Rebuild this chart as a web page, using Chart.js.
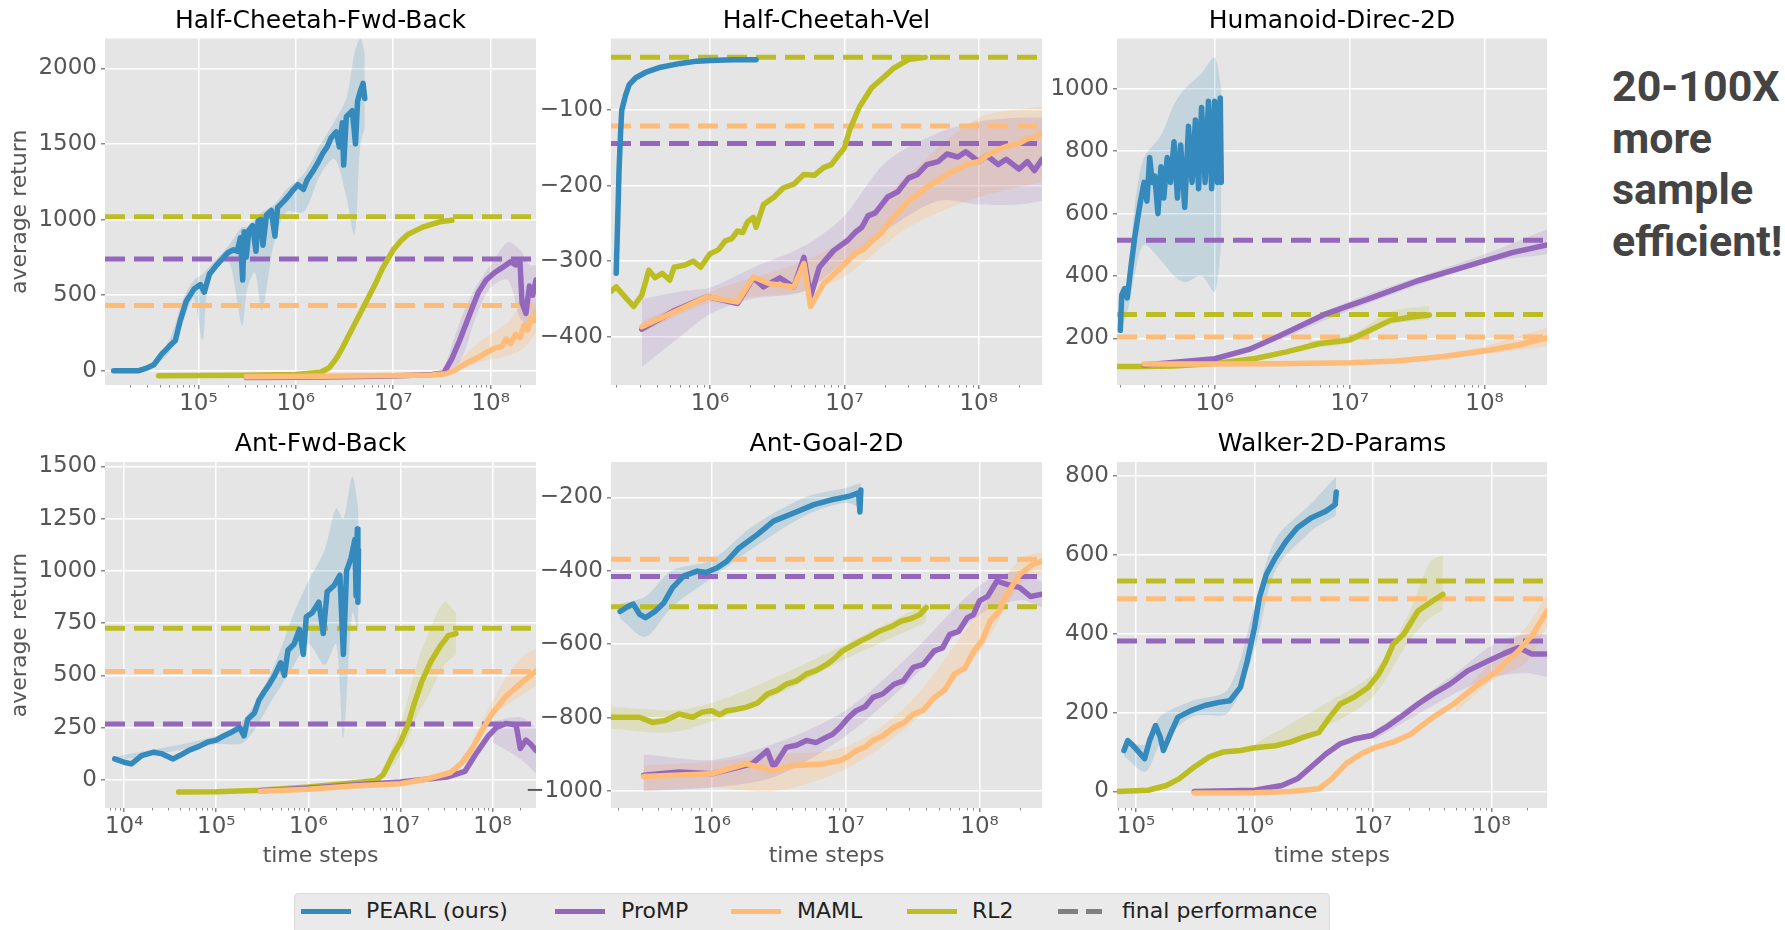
<!DOCTYPE html>
<html>
<head>
<meta charset="utf-8">
<script src="https://cdn.jsdelivr.net/npm/chart.js@4.4.1/dist/chart.umd.min.js"></script>
<style>
  body { margin: 0; background: #fff; width: 1785px; height: 930px; overflow: hidden; position: relative; font-family: 'DejaVu Sans'; }
  canvas { position: absolute; }
  #claim { position: absolute; left: 1612px; top: 61px; font-family: Roboto; font-weight: 700; font-size: 43px; line-height: 51.5px; color: #444; white-space: nowrap; }
  #legend { position: absolute; left: 294px; top: 893px; width: 1036px; height: 45px; background: #eaeaea; border: 1px solid #dadada; border-radius: 4px; box-sizing: border-box; }
  #legend .h { position: absolute; top: 15px; height: 5px; }
  #legend .t { position: absolute; top: 4px; font-size: 22px; line-height: 26px; color: #222; white-space: nowrap; }
</style>
</head>
<body>
<canvas id="c0" width="550" height="425" style="left:0px;top:0px"></canvas>
<canvas id="c1" width="535" height="425" style="left:520px;top:0px"></canvas>
<canvas id="c2" width="515" height="425" style="left:1045px;top:0px"></canvas>
<canvas id="c3" width="550" height="455" style="left:0px;top:425px"></canvas>
<canvas id="c4" width="535" height="455" style="left:520px;top:425px"></canvas>
<canvas id="c5" width="515" height="455" style="left:1045px;top:425px"></canvas>

<div id="claim">20-100X<br>more<br>sample<br>efficient!</div>

<div id="legend">
  <div class="h" style="left:6px;width:50px;background:#348abd"></div><div class="t" style="left:71px">PEARL (ours)</div>
  <div class="h" style="left:260px;width:50px;background:#9467bd"></div><div class="t" style="left:326px">ProMP</div>
  <div class="h" style="left:436px;width:50px;background:#ffbb78"></div><div class="t" style="left:502px">MAML</div>
  <div class="h" style="left:612px;width:50px;background:#bcbd22"></div><div class="t" style="left:677px">RL2</div>
  <div class="h" style="left:763px;width:20px;background:#808080"></div><div class="h" style="left:791px;width:16px;background:#808080"></div><div class="t" style="left:827px">final performance</div>
</div>

<script>
// tick labels for the log time axis
var xTickValues = [1e4, 1e5, 1e6, 1e7, 1e8];
var xTickLabels = ['10\u2074', '10\u2075', '10\u2076', '10\u2077', '10\u2078'];

// ---- Half-Cheetah-Fwd-Back ----
var hcfbXRange = [1.1e4, 2.92e8];
var hcfbYRange = [-94, 2197];
var hcfbYTicks = [0, 500, 1000, 1500, 2000];
var hcfbPearl = [[1.35e4,0],[1.8e4,0],[2.4e4,0],[3.0e4,20],[3.5e4,40],[4.2e4,110],[5.0e4,160],[5.8e4,200],[6.5e4,330],[7.5e4,460],[9.0e4,540],[1.05e5,570],[1.15e5,520],[1.3e5,640],[1.5e5,690],[1.7e5,730],[2.0e5,780],[2.3e5,800],[2.5e5,790],[2.7e5,880],[2.85e5,600],[2.95e5,920],[3.1e5,750],[3.3e5,930],[3.6e5,960],[3.9e5,790],[4.1e5,990],[4.4e5,1000],[4.6e5,830],[5.0e5,1030],[5.6e5,1060],[6.1e5,890],[6.5e5,1080],[7.5e5,1120],[8.5e5,1160],[9.5e5,1200],[1.05e6,1230],[1.2e6,1200],[1.3e6,1260],[1.5e6,1320],[1.7e6,1380],[1.9e6,1440],[2.1e6,1480],[2.3e6,1540],[2.6e6,1580],[2.8e6,1480],[3.0e6,1640],[3.1e6,1360],[3.3e6,1680],[3.8e6,1720],[4.1e6,1500],[4.3e6,1780],[4.6e6,1850],[4.9e6,1900],[5.1e6,1800]];
var hcfbPromp = [[3.1e5,-45],[1e6,-42],[3e6,-40],[1e7,-35],[2.5e7,-25],[3.3e7,-15],[4e7,80],[4.8e7,200],[5.5e7,300],[6.5e7,420],[7.5e7,520],[9e7,600],[1.1e8,650],[1.3e8,680],[1.6e8,720],[1.8e8,700],[2e8,720],[2.1e8,450],[2.3e8,380],[2.5e8,560],[2.7e8,500],[2.92e8,600]];
var hcfbMaml = [[3.1e5,-40],[1e6,-38],[3e6,-35],[1e7,-32],[2.5e7,-28],[3.5e7,-20],[4.2e7,0],[5e7,30],[6e7,60],[7.5e7,90],[9e7,120],[1.1e8,150],[1.3e8,160],[1.45e8,210],[1.6e8,180],[1.8e8,240],[2e8,220],[2.2e8,300],[2.4e8,270],[2.6e8,350],[2.8e8,330],[2.92e8,390]];
var hcfbRl2 = [[3.9e4,-33],[1e5,-32],[3e5,-30],[1e6,-25],[1.8e6,-10],[2.2e6,20],[2.6e6,80],[3.0e6,150],[3.6e6,250],[4.5e6,370],[5.5e6,480],[6.5e6,570],[7.8e6,680],[1e7,800],[1.2e7,860],[1.4e7,900],[2e7,950],[3e7,985],[4e7,995]];
var hcfbFinal = [739, 432, 1018]; // ProMP, MAML, RL2
// spread bands: [x, low, high]
var hcfbPearlBand = [[1.35e4,-10,10],[3e4,10,35],[5e4,120,200],[7e4,330,480],[9e4,480,600],[1.1e5,200,640],[1.3e5,600,690],[2e5,740,820],[2.8e5,300,950],[3.2e5,550,950],[3.8e5,650,1000],[4.5e5,400,1050],[6e5,850,1100],[8e5,1050,1200],[1.2e6,1050,1300],[1.8e6,1300,1500],[2.5e6,1400,1650],[3.3e6,1150,1800],[4e6,900,2100],[4.6e6,1500,2200],[5.1e6,1600,2100]];
var hcfbPrompBand = [[3.3e7,-30,0],[5e7,80,350],[7e7,350,550],[1e8,550,700],[1.5e8,600,850],[2e8,350,800],[2.5e8,300,700],[2.92e8,400,700]];
var hcfbMamlBand = [[4e7,-20,20],[8e7,60,200],[1.5e8,100,320],[2.2e8,150,450],[2.92e8,250,450]];

// ---- Half-Cheetah-Vel ----
var hcvXRange = [1.83e5, 2.96e8];
var hcvYRange = [-464, -5];
var hcvYTicks = [-400, -300, -200, -100];
var hcvPearl = [[2.0e5,-316],[2.05e5,-250],[2.1e5,-180],[2.15e5,-135],[2.2e5,-100],[2.35e5,-80],[2.5e5,-66],[2.8e5,-57],[3.3e5,-50],[4.3e5,-43],[6e5,-38],[8e5,-35],[1e6,-34],[1.5e6,-33],[2.2e6,-33]];
var hcvPromp = [[3.1e5,-390],[5.5e5,-365],[9.5e5,-347],[1.6e6,-356],[2.1e6,-322],[2.5e6,-334],[3.3e6,-322],[4.2e6,-334],[5e6,-295],[5.6e6,-347],[6.5e6,-308],[8.3e6,-286],[1.05e7,-273],[1.2e7,-262],[1.35e7,-255],[1.5e7,-240],[1.7e7,-236],[2.1e7,-215],[2.5e7,-208],[3e7,-190],[3.5e7,-185],[4.1e7,-172],[5e7,-168],[5.8e7,-158],[7e7,-162],[8e7,-155],[1e8,-168],[1.15e8,-160],[1.4e8,-172],[1.6e8,-165],[2e8,-178],[2.3e8,-168],[2.6e8,-180],[2.96e8,-165]];
var hcvMaml = [[3.1e5,-387],[9.5e5,-347],[1.6e6,-354],[2.1e6,-321],[2.8e6,-330],[4.2e6,-334],[5e6,-303],[5.6e6,-360],[7e6,-330],[9e6,-312],[1.2e7,-290],[1.4e7,-284],[1.6e7,-273],[1.9e7,-262],[2.1e7,-251],[2.5e7,-236],[3e7,-220],[3.5e7,-212],[4.1e7,-202],[5e7,-193],[5.8e7,-185],[7e7,-178],[8e7,-172],[1e8,-168],[1.15e8,-160],[1.4e8,-152],[1.6e8,-148],[2e8,-144],[2.3e8,-138],[2.6e8,-136],[2.96e8,-130]];
var hcvRl2 = [[1.83e5,-340],[2e5,-334],[2.4e5,-350],[2.7e5,-360],[3.1e5,-345],[3.5e5,-312],[3.9e5,-322],[4.4e5,-316],[5e5,-325],[5.4e5,-308],[6.5e5,-305],[7.5e5,-300],[8.5e5,-308],[1e6,-290],[1.15e6,-285],[1.3e6,-273],[1.45e6,-270],[1.6e6,-260],[1.75e6,-262],[1.9e6,-248],[2.1e6,-242],[2.2e6,-255],[2.5e6,-225],[3e6,-215],[3.5e6,-203],[4.2e6,-198],[5e6,-185],[6e6,-186],[7e6,-176],[8e6,-172],[9e6,-160],[1e7,-150],[1.1e7,-125],[1.3e7,-95],[1.6e7,-70],[2e7,-55],[2.3e7,-45],[3e7,-33],[4e7,-30]];
var hcvFinal = [-144, -121, -30];
var hcvPrompBand = [[3.1e5,-440,-350],[6e5,-400,-340],[1e6,-370,-335],[2e6,-350,-310],[5e6,-340,-280],[1e7,-300,-240],[2e7,-260,-170],[5e7,-220,-130],[1e8,-225,-115],[2e8,-225,-110],[2.96e8,-220,-110]];
var hcvMamlBand = [[3.1e5,-395,-380],[1e6,-355,-340],[5e6,-340,-300],[1e7,-320,-270],[3e7,-255,-185],[1e8,-215,-110],[2.96e8,-195,-95]];

// ---- Humanoid-Direc-2D ----
var humXRange = [1.89e5, 2.9e8];
var humYRange = [51, 1161];
var humYTicks = [200, 400, 600, 800, 1000];
var humPearl = [[2e5,226],[2.05e5,340],[2.15e5,360],[2.25e5,330],[2.4e5,430],[2.55e5,520],[2.7e5,590],[2.85e5,650],[3.0e5,700],[3.15e5,640],[3.3e5,780],[3.45e5,700],[3.6e5,720],[3.8e5,600],[4.0e5,750],[4.2e5,650],[4.45e5,780],[4.7e5,700],[5e5,830],[5.3e5,650],[5.6e5,820],[6e5,620],[6.4e5,880],[6.8e5,700],[7.2e5,900],[7.6e5,680],[8e5,940],[8.5e5,700],[9e5,960],[9.5e5,680],[1.0e6,960],[1.05e6,700],[1.1e6,970],[1.12e6,700]];
var humPromp = [[3e5,115],[1e6,135],[1.8e6,165],[2.9e6,205],[6.5e6,277],[1.45e7,330],[3.2e7,385],[7.2e7,430],[1.6e8,475],[2.9e8,500]];
var humMaml = [[3e5,118],[1e6,118],[3e6,119],[1e7,122],[2.2e7,128],[5e7,142],[1.1e8,163],[1.8e8,180],[2.9e8,202]];
var humRl2 = [[1.89e5,110],[3e5,110],[5e5,112],[1e6,120],[2e6,136],[3.4e6,157],[6e6,184],[1e7,195],[1.5e7,232],[2e7,258],[2.8e7,268],[3.9e7,275]];
var humFinal = [515, 205, 277];
var humPearlBand = [[2e5,220,260],[2.3e5,300,420],[2.6e5,420,650],[3e5,500,780],[4e5,450,850],[5e5,400,950],[6e5,380,1000],[8e5,400,1050],[1e6,350,1100],[1.12e6,500,1000]];
var humPrompBand = [[3e6,195,215],[1e7,290,320],[1e8,440,470],[2.9e8,470,550]];
var humMamlBand = [[5e7,135,150],[1e8,150,175],[2.9e8,175,235]];
var humRl2Band = [[5e6,170,190],[1e7,185,210],[2e7,245,285],[3.9e7,260,305]];

// ---- Ant-Fwd-Back ----
var afbXRange = [6.2e3, 2.96e8];
var afbYRange = [-135, 1521];
var afbYTicks = [0, 250, 500, 750, 1000, 1250, 1500];
var afbPearl = [[7.9e3,100],[1e4,84],[1.2e4,76],[1.55e4,116],[2.1e4,132],[2.6e4,124],[3.4e4,100],[4e4,116],[5e4,140],[6.5e4,160],[8e4,180],[1e5,190],[1.2e5,210],[1.5e5,230],[1.8e5,250],[2e5,210],[2.2e5,290],[2.6e5,320],[2.9e5,380],[3.3e5,420],[3.8e5,460],[4.3e5,500],[5e5,560],[5.5e5,500],[6e5,620],[7e5,650],[8e5,720],[8.8e5,600],[9.5e5,780],[1.1e6,800],[1.3e6,850],[1.45e6,700],[1.6e6,900],[1.9e6,930],[2.2e6,980],[2.4e6,600],[2.6e6,1000],[2.9e6,1060],[3.2e6,1150],[3.3e6,880],[3.4e6,1200],[3.45e6,850],[3.5e6,1100]];
var afbPromp = [[3e5,-52],[1e6,-40],[3e6,-25],[1e7,-11],[3.2e7,13],[5e7,40],[6.5e7,120],[9e7,210],[1.1e8,250],[1.4e8,270],[1.8e8,262],[2e8,150],[2.3e8,190],[2.6e8,170],[2.96e8,140]];
var afbMaml = [[3e5,-55],[1e6,-45],[3e6,-30],[1e7,-19],[2e7,5],[3.5e7,35],[4.6e7,80],[6e7,150],[8e7,250],[1e8,320],[1.4e8,400],[2e8,460],[2.96e8,520]];
var afbRl2 = [[3.9e4,-59],[1e5,-57],[3e5,-50],[1e6,-35],[3e6,-15],[5.4e6,-3],[6.5e6,25],[7.3e6,70],[8.3e6,120],[1e7,180],[1.2e7,260],[1.4e7,360],[1.7e7,470],[2.1e7,560],[2.7e7,640],[3.3e7,690],[4e7,700]];
var afbFinal = [267, 518, 725];
var afbPearlBand = [[7.9e3,90,110],[1e5,170,210],[2e5,180,290],[4e5,380,520],[7e5,550,800],[1e6,650,950],[1.5e6,550,1100],[2e6,650,1300],[2.4e6,200,1250],[3e6,800,1450],[3.5e6,700,1300]];
var afbPrompBand = [[1e8,180,280],[2e8,100,300],[2.96e8,30,250]];
var afbMamlBand = [[5e7,50,100],[1e8,300,380],[2e8,400,580],[2.96e8,450,630]];
var afbRl2Band = [[6e6,-10,10],[1e7,120,260],[1.5e7,300,550],[2e7,400,700],[3e7,550,850],[4e7,600,800]];

// ---- Ant-Goal-2D ----
var agXRange = [1.77e5, 2.93e8];
var agYRange = [-1046, -104];
var agYTicks = [-1000, -800, -600, -400, -200];
var agPearl = [[2.07e5,-511],[2.4e5,-496],[2.6e5,-491],[2.9e5,-519],[3.2e5,-528],[3.8e5,-510],[4.4e5,-487],[5.1e5,-446],[6.2e5,-414],[7.8e5,-401],[9.1e5,-405],[1.1e6,-392],[1.3e6,-374],[1.6e6,-338],[2.2e6,-301],[2.9e6,-265],[4.1e6,-243],[5.8e6,-220],[8.1e6,-206],[1.07e7,-197],[1.25e7,-188],[1.28e7,-240],[1.3e7,-180]];
var agPromp = [[3.1e5,-957],[5.7e5,-948],[1e6,-953],[1.45e6,-939],[2e6,-926],[2.6e6,-890],[2.9e6,-935],[3.6e6,-881],[4.3e6,-875],[5.1e6,-862],[6e6,-868],[7.2e6,-853],[8e6,-845],[9.1e6,-826],[1.05e7,-800],[1.2e7,-781],[1.4e7,-770],[1.6e7,-745],[1.9e7,-735],[2.3e7,-709],[2.7e7,-700],[3.2e7,-663],[3.8e7,-655],[4.6e7,-618],[5.3e7,-610],[6e7,-573],[7e7,-565],[8.1e7,-528],[9e7,-520],[1e8,-482],[1.15e8,-470],[1.35e8,-428],[1.6e8,-437],[2e8,-446],[2.4e8,-470],[2.93e8,-464]];
var agMaml = [[3.1e5,-960],[1e6,-953],[1.8e6,-926],[2.9e6,-944],[4.1e6,-930],[6.8e6,-926],[9.1e6,-917],[1.05e7,-905],[1.2e7,-890],[1.4e7,-880],[1.6e7,-862],[1.9e7,-850],[2.3e7,-826],[2.7e7,-815],[3.2e7,-790],[3.8e7,-780],[4.6e7,-745],[5.5e7,-725],[6.5e7,-681],[7.8e7,-665],[9.1e7,-618],[1.05e8,-590],[1.2e8,-537],[1.4e8,-510],[1.6e8,-464],[2e8,-410],[2.5e8,-383],[2.93e8,-374]];
var agRl2 = [[1.77e5,-799],[2.9e5,-799],[3.6e5,-813],[4.5e5,-808],[5.7e5,-790],[7.2e5,-799],[8.5e5,-785],[1e6,-781],[1.15e6,-792],[1.3e6,-781],[1.5e6,-778],[1.8e6,-772],[2.2e6,-760],[2.6e6,-736],[3.1e6,-725],[3.6e6,-709],[4.3e6,-700],[5.1e6,-681],[6e6,-672],[7.3e6,-654],[8.2e6,-640],[9.5e6,-618],[1.1e7,-605],[1.3e7,-591],[1.5e7,-580],[1.8e7,-564],[2.2e7,-552],[2.6e7,-537],[3.1e7,-530],[3.6e7,-519],[4e7,-500]];
var agFinal = [-416, -369, -498];
var agPearlBand = [[2.07e5,-530,-490],[3.2e5,-580,-470],[5e5,-500,-400],[1e6,-420,-370],[2e6,-340,-280],[5e6,-250,-200],[1e7,-215,-175],[1.3e7,-230,-160]];
var agPrompBand = [[3.1e5,-1000,-900],[1e6,-990,-915],[3e6,-960,-870],[1e7,-850,-780],[3e7,-700,-630],[1e8,-520,-440],[2e8,-480,-400],[2.93e8,-500,-430]];
var agMamlBand = [[3.1e5,-1000,-930],[1e6,-990,-920],[3e6,-1000,-900],[1e7,-940,-880],[3e7,-820,-760],[1e8,-620,-510],[2e8,-440,-370],[2.93e8,-410,-350]];
var agRl2Band = [[1.77e5,-830,-770],[5e5,-840,-780],[1e6,-810,-760],[3e6,-740,-690],[1e7,-640,-600],[4e7,-540,-490]];

// ---- Walker-2D-Params ----
var wkXRange = [6.9e4, 2.95e8];
var wkYRange = [-42, 836];
var wkYTicks = [0, 200, 400, 600, 800];
var wkPearl = [[7.9e4,104],[8.5e4,129],[9.1e4,121],[1e5,108],[1.18e5,83],[1.3e5,129],[1.46e5,167],[1.6e5,138],[1.7e5,104],[1.95e5,146],[2.25e5,188],[2.9e5,205],[3.8e5,218],[5e5,226],[6.2e5,230],[7.6e5,264],[8.7e5,332],[1e6,416],[1.1e6,492],[1.26e6,551],[1.5e6,593],[1.85e6,635],[2.3e6,669],[3e6,694],[4e6,711],[4.8e6,728],[4.9e6,760]];
var wkPromp = [[3.1e5,0],[1e6,3],[1.7e6,15],[2.3e6,32],[3e6,62],[4e6,95],[5.3e6,121],[6.9e6,133],[9.8e6,142],[1.29e7,163],[1.7e7,188],[2.4e7,222],[3.2e7,247],[4.5e7,273],[6.3e7,306],[9.5e7,332],[1.26e8,349],[1.7e8,365],[2.2e8,349],[2.95e8,349]];
var wkMaml = [[3.1e5,-4],[1e6,-3],[2e6,0],[3.5e6,7],[4.5e6,32],[5.9e6,70],[7.9e6,95],[1.05e7,112],[1.48e7,125],[2.1e7,146],[3.2e7,188],[4.8e7,222],[7.2e7,264],[1.12e8,306],[1.7e8,357],[2.25e8,399],[2.95e8,458]];
var wkRl2 = [[6.9e4,0],[1.26e5,3],[1.8e5,15],[2.3e5,32],[3.1e5,62],[4.1e5,87],[5.4e5,100],[7.6e5,104],[1e6,111],[1.5e6,116],[2e6,125],[2.6e6,138],[3.5e6,150],[4.3e6,188],[5.3e6,222],[6.9e6,239],[9.1e6,264],[1.12e7,298],[1.29e7,332],[1.48e7,374],[1.82e7,399],[2.4e7,458],[3.2e7,484],[3.9e7,500]];
var wkFinal = [382, 489, 534];
var wkPearlBand = [[7.9e4,90,130],[1.2e5,50,120],[1.6e5,120,190],[3e5,190,230],[6e5,200,260],[1e6,360,470],[1.5e6,560,640],[3e6,660,730],[4.9e6,700,800]];
var wkPrompBand = [[1e7,130,150],[5e7,250,300],[1e8,290,370],[2e8,300,400],[2.95e8,290,400]];
var wkMamlBand = [[5e7,200,230],[1e8,280,330],[2e8,330,420],[2.95e8,420,500]];
var wkRl2Band = [[1e6,100,120],[5e6,180,240],[1e7,240,300],[2e7,380,450],[3e7,440,580],[3.9e7,460,600]];

var colors = { pearl: '#348abd', promp: '#9467bd', maml: '#ffbb78', rl2: '#bcbd22' };
var bandColors = { pearl: 'rgba(52,138,189,0.18)', promp: 'rgba(148,103,189,0.17)', maml: 'rgba(255,187,120,0.28)', rl2: 'rgba(188,189,34,0.18)' };

// column / row geometry
var cols = [{ yw: 105, pr: 14 }, { yw: 91, pr: 13 }, { yw: 72, pr: 13 }];
var rows = [{ xh: 40, tt: 6, tb: 2.5 }, { xh: 72, tt: 4, tb: 3 }];

Chart.defaults.font.family = "'DejaVu Sans'";

var plotBg = {
  id: 'plotBg',
  beforeDraw: function(chart) {
    var a = chart.chartArea, ctx = chart.ctx;
    ctx.save();
    ctx.fillStyle = '#e5e5e5';
    ctx.fillRect(a.left, a.top, a.right - a.left, a.bottom - a.top);
    ctx.restore();
  }
};

// small minor ticks under the log axis
var minorTicks = {
  id: 'minorTicks',
  afterDraw: function(chart) {
    var s = chart.scales.x, a = chart.chartArea, ctx = chart.ctx;
    ctx.save();
    ctx.strokeStyle = '#888';
    ctx.lineWidth = 1;
    for (var k = Math.floor(Math.log10(s.min)); k <= Math.ceil(Math.log10(s.max)); k++) {
      for (var m = 2; m < 10; m++) {
        var v = m * Math.pow(10, k);
        if (v < s.min || v > s.max) continue;
        var px = Math.round(s.getPixelForValue(v)) + 0.5;
        ctx.beginPath();
        ctx.moveTo(px, a.bottom);
        ctx.lineTo(px, a.bottom + 2.5);
        ctx.stroke();
      }
    }
    ctx.restore();
  }
};

function toXY(pts) {
  return pts.map(function(p) { return { x: p[0], y: p[1] }; });
}

function panel(id, title, col, row, xr, yr, yt, s) {
  var c = cols[col], r = rows[row];
  var ds = [];
  function solid(pts, color, order) {
    ds.push({ data: toXY(pts), borderColor: color, borderWidth: 5.5, pointRadius: 0, tension: 0,
      order: order, borderJoinStyle: 'round', borderCapStyle: 'round' });
  }
  function band(pts, color) {
    if (!pts) return;
    ds.push({ data: pts.map(function(p) { return { x: p[0], y: p[1] }; }), borderWidth: 0,
      borderColor: 'rgba(0,0,0,0)', pointRadius: 0, tension: 0.3, order: 10, fill: false });
    ds.push({ data: pts.map(function(p) { return { x: p[0], y: p[2] }; }), borderWidth: 0,
      borderColor: 'rgba(0,0,0,0)', backgroundColor: color, pointRadius: 0, tension: 0.3, order: 10, fill: '-1' });
  }
  function dashed(v, color) {
    ds.push({ data: [{ x: xr[0], y: v }, { x: xr[1], y: v }], borderColor: color, borderWidth: 5,
      borderDash: [20, 9], pointRadius: 0, order: 5 });
  }
  band(s.pearlBand, bandColors.pearl);
  band(s.prompBand, bandColors.promp);
  band(s.mamlBand, bandColors.maml);
  band(s.rl2Band, bandColors.rl2);
  solid(s.pearl, colors.pearl, 0);
  solid(s.maml, colors.maml, 1);
  solid(s.promp, colors.promp, 2);
  solid(s.rl2, colors.rl2, 3);
  dashed(s.fin[0], colors.promp);
  dashed(s.fin[1], colors.maml);
  dashed(s.fin[2], colors.rl2);

  var gridOpts = { color: '#ffffff', lineWidth: 1.5, tickColor: '#888', tickLength: 4 };

  new Chart(document.getElementById(id), {
    type: 'line',
    data: { datasets: ds },
    options: {
      responsive: false,
      animation: false,
      events: [],
      layout: { padding: { left: 0, right: c.pr, top: 0, bottom: 0 } },
      plugins: {
        legend: { display: false },
        tooltip: { enabled: false },
        title: {
          display: true, text: title, color: '#000', fullSize: false,
          font: { size: 25, weight: 'normal', lineHeight: 1.2 },
          padding: { top: r.tt, bottom: r.tb }
        }
      },
      scales: {
        x: {
          type: 'logarithmic', min: xr[0], max: xr[1],
          afterBuildTicks: function(sc) {
            sc.ticks = xTickValues.filter(function(v) { return v >= xr[0] && v <= xr[1]; })
              .map(function(v) { return { value: v }; });
          },
          afterFit: function(sc) { sc.height = r.xh; },
          ticks: {
            autoSkip: false, maxRotation: 0, padding: 1, color: '#555', font: { size: 23 },
            callback: function(v) { return xTickLabels[xTickValues.indexOf(v)]; }
          },
          grid: gridOpts,
          border: { display: false },
          title: { display: row === 1, text: 'time steps', color: '#555', font: { size: 22 }, padding: { top: 0, bottom: 10.8 } }
        },
        y: {
          type: 'linear', min: yr[0], max: yr[1],
          afterBuildTicks: function(sc) { sc.ticks = yt.map(function(v) { return { value: v }; }); },
          afterFit: function(sc) { sc.width = c.yw; },
          ticks: {
            padding: 4, color: '#555', font: { size: 23 },
            callback: function(v) { return (v < 0 ? '\u2212' : '') + Math.abs(v); }
          },
          grid: gridOpts,
          border: { display: false },
          title: { display: col === 0, text: 'average return', color: '#555', font: { size: 22 }, padding: { top: 7, bottom: 0 } }
        }
      }
    },
    plugins: [plotBg, minorTicks]
  });
}

panel('c0', 'Half-Cheetah-Fwd-Back', 0, 0, hcfbXRange, hcfbYRange, hcfbYTicks,
  { pearl: hcfbPearl, promp: hcfbPromp, maml: hcfbMaml, rl2: hcfbRl2, fin: hcfbFinal,
    pearlBand: hcfbPearlBand, prompBand: hcfbPrompBand, mamlBand: hcfbMamlBand });
panel('c1', 'Half-Cheetah-Vel', 1, 0, hcvXRange, hcvYRange, hcvYTicks,
  { pearl: hcvPearl, promp: hcvPromp, maml: hcvMaml, rl2: hcvRl2, fin: hcvFinal,
    prompBand: hcvPrompBand, mamlBand: hcvMamlBand });
panel('c2', 'Humanoid-Direc-2D', 2, 0, humXRange, humYRange, humYTicks,
  { pearl: humPearl, promp: humPromp, maml: humMaml, rl2: humRl2, fin: humFinal,
    pearlBand: humPearlBand, prompBand: humPrompBand, mamlBand: humMamlBand, rl2Band: humRl2Band });
panel('c3', 'Ant-Fwd-Back', 0, 1, afbXRange, afbYRange, afbYTicks,
  { pearl: afbPearl, promp: afbPromp, maml: afbMaml, rl2: afbRl2, fin: afbFinal,
    pearlBand: afbPearlBand, prompBand: afbPrompBand, mamlBand: afbMamlBand, rl2Band: afbRl2Band });
panel('c4', 'Ant-Goal-2D', 1, 1, agXRange, agYRange, agYTicks,
  { pearl: agPearl, promp: agPromp, maml: agMaml, rl2: agRl2, fin: agFinal,
    pearlBand: agPearlBand, prompBand: agPrompBand, mamlBand: agMamlBand, rl2Band: agRl2Band });
panel('c5', 'Walker-2D-Params', 2, 1, wkXRange, wkYRange, wkYTicks,
  { pearl: wkPearl, promp: wkPromp, maml: wkMaml, rl2: wkRl2, fin: wkFinal,
    pearlBand: wkPearlBand, prompBand: wkPrompBand, mamlBand: wkMamlBand, rl2Band: wkRl2Band });
</script>
</body>
</html>
